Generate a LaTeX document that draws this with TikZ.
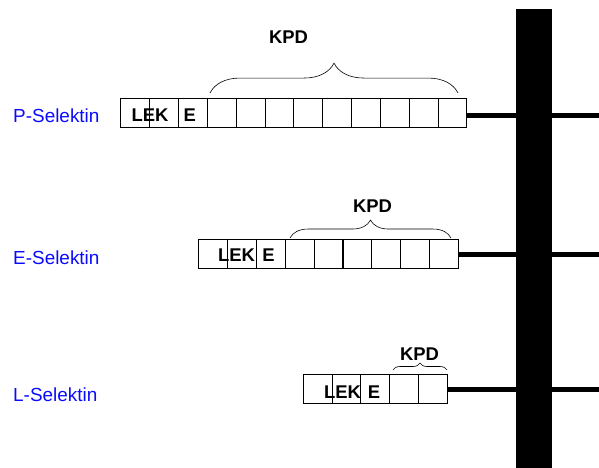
\documentclass[tikz,border=0pt]{standalone}
\usepackage{fontspec}
\setmainfont{Liberation Sans}
\usetikzlibrary{decorations.pathreplacing}
\definecolor{SelBlue}{HTML}{0A0AFF}
\tikzset{
  cell/.style={draw,line width=0.6pt,minimum width=28.8bp,minimum height=29bp,inner sep=0pt},
  dom/.style={font=\fontsize{18.5}{20}\selectfont\bfseries,anchor=base,inner sep=0pt},
  sel/.style={font=\fontsize{19}{21}\selectfont,text=SelBlue,anchor=base west,inner sep=0pt},
  stem/.style={line width=5bp},
  kpdbrace/.style={decorate,decoration={brace,amplitude=#1},line width=0.6pt}
}

\begin{document}
\begin{tikzpicture}[x=1bp,y=-1bp]
  \useasboundingbox (0,0) rectangle (599,468);
  % P-Selektin
  \node[sel] (psel) at (13,123) {P-Selektin};
  \foreach \i in {1,...,12}
    \node[cell] (p\i) at ({120.7+(\i-0.5)*28.83},113) {};
  \node[dom] (plek) at (150,122) {LEK};
  \node[dom] (pe) at (189.8,122) {E};
  \draw[kpdbrace=30] (210,93) -- (458,93);
  \node[dom] (pkpd) at (288.5,44) {KPD};
  \coordinate (pout) at (599,116);
  \draw[stem] (p12.east |- pout) -- (pout);
  % E-Selektin
  \node[sel] (esel) at (13,265) {E-Selektin};
  \foreach \i in {1,...,9}
    \node[cell] (e\i) at ({198.3+(\i-0.5)*28.9},253.7) {};
  \node[dom] (elek) at (236.5,262) {LEK};
  \node[dom] (ee) at (268.5,262) {E};
  \draw[kpdbrace=18] (290,238) -- (451,238);
  \node[dom] (ekpd) at (372.5,213) {KPD};
  \coordinate (eout) at (599,255);
  \draw[stem] (e9.east |- eout) -- (eout);
  % L-Selektin
  \node[sel] (lsel) at (13,401.5) {L-Selektin};
  \foreach \i in {1,...,5}
    \node[cell] (l\i) at ({303.3+(\i-0.5)*28.7},388.5) {};
  \node[dom] (llek) at (342.5,398) {LEK};
  \node[dom] (le) at (374,398) {E};
  \draw[kpdbrace=7] (393,370) -- (447,370);
  \node[dom] (lkpd) at (419.5,360) {KPD};
  \coordinate (lout) at (599,389);
  \draw[stem] (l5.east |- lout) -- (lout);
  % Membran
  \node[fill=black,inner sep=0pt,outer sep=0pt,minimum width=35.7bp,minimum height=459bp,anchor=north west] (membrane) at (516,9) {};
\end{tikzpicture}
\end{document}
